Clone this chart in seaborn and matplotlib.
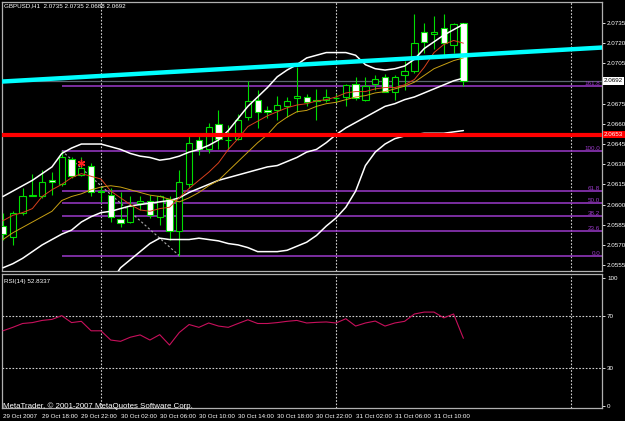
import matplotlib
matplotlib.use("Agg")
import pandas as pd
import matplotlib.pyplot as plt
import matplotlib.transforms as mtransforms
import seaborn as sns

# GBPUSD H1, bars from 29 Oct 2007 14:00 to 31 Oct 2007 13:00
opens = [2.0584, 2.0576, 2.0594, 2.0606, 2.0606, 2.0618, 2.0615, 2.0634, 2.0622, 2.0629,
         2.0610, 2.0607, 2.0589, 2.0587, 2.0601, 2.0603, 2.0591, 2.0604, 2.0580, 2.0615,
         2.0648, 2.0641, 2.0660, 2.0648, 2.0649, 2.0665, 2.0678, 2.0670, 2.0670, 2.0673,
         2.0679, 2.0680, 2.0678, 2.0678, 2.0679, 2.0680, 2.0690, 2.0678, 2.0690, 2.0695,
         2.0684, 2.0696, 2.0699, 2.0728, 2.0727, 2.0731, 2.0719, 2.0735]
highs = [2.0594, 2.0595, 2.0612, 2.0623, 2.0626, 2.0624, 2.0640, 2.0635, 2.0635, 2.0631,
         2.0613, 2.0612, 2.0609, 2.0606, 2.0606, 2.0607, 2.0607, 2.0606, 2.0626, 2.0652,
         2.0652, 2.0661, 2.0670, 2.0659, 2.0667, 2.0692, 2.0685, 2.0673, 2.0681, 2.0680,
         2.0702, 2.0682, 2.0686, 2.0686, 2.0682, 2.0690, 2.0695, 2.0695, 2.0696, 2.0697,
         2.0696, 2.0707, 2.0742, 2.0735, 2.0740, 2.0742, 2.0735, 2.0735]
lows = [2.0574, 2.0570, 2.0592, 2.0606, 2.0605, 2.0607, 2.0614, 2.0620, 2.0621, 2.0606,
        2.0602, 2.0587, 2.0583, 2.0586, 2.0596, 2.0590, 2.0585, 2.0574, 2.0562, 2.0612,
        2.0637, 2.0638, 2.0641, 2.0641, 2.0648, 2.0663, 2.0657, 2.0664, 2.0663, 2.0665,
        2.0669, 2.0673, 2.0663, 2.0676, 2.0676, 2.0673, 2.0678, 2.0677, 2.0685, 2.0684,
        2.0678, 2.0685, 2.0698, 2.0713, 2.0716, 2.0710, 2.0713, 2.0688]
closes = [2.0578, 2.0594, 2.0606, 2.0607, 2.0617, 2.0617, 2.0635, 2.0621, 2.0627, 2.0609,
          2.0609, 2.0591, 2.0586, 2.0599, 2.0603, 2.0592, 2.0606, 2.0580, 2.0617, 2.0646,
          2.0641, 2.0658, 2.0649, 2.0648, 2.0663, 2.0677, 2.0669, 2.0669, 2.0674, 2.0677,
          2.0681, 2.0676, 2.0677, 2.0680, 2.0679, 2.0689, 2.0679, 2.0688, 2.0693, 2.0684,
          2.0695, 2.0699, 2.0720, 2.0721, 2.0728, 2.0720, 2.0734, 2.0692]

bb_upper = [2.0606, 2.0610, 2.0614, 2.0618, 2.0623, 2.0628, 2.0638, 2.0642, 2.0645, 2.0645,
            2.0645, 2.0643, 2.0641, 2.0638, 2.0636, 2.0635, 2.0633, 2.0634, 2.0636, 2.0639,
            2.0641, 2.0644, 2.0648, 2.0655, 2.0664, 2.0673, 2.0680, 2.0687, 2.0695, 2.0700,
            2.0704, 2.0709, 2.0711, 2.0713, 2.0713, 2.0713, 2.0711, 2.0704, 2.0701, 2.0700,
            2.0701, 2.0703, 2.0708, 2.0716, 2.0721, 2.0726, 2.0730, 2.0734]
bb_middle = [2.0553, 2.0556, 2.0560, 2.0565, 2.0570, 2.0574, 2.0578, 2.0581, 2.0587, 2.0591,
             2.0594, 2.0595, 2.0597, 2.0599, 2.0600, 2.0601, 2.0602, 2.0603, 2.0605, 2.0609,
             2.0612, 2.0615, 2.0618, 2.0620, 2.0622, 2.0624, 2.0626, 2.0628, 2.0629, 2.0632,
             2.0635, 2.0639, 2.0641, 2.0646, 2.0652, 2.0657, 2.0661, 2.0665, 2.0669, 2.0673,
             2.0675, 2.0678, 2.0680, 2.0683, 2.0686, 2.0689, 2.0692, 2.0694]
bb_lower = [None] * 11 + [
            2.0542, 2.0553, 2.0559, 2.0565, 2.0571, 2.0575, 2.0574, 2.0574, 2.0574,
            2.0575, 2.0574, 2.0573, 2.0571, 2.0570, 2.0568, 2.0565, 2.0565, 2.0565, 2.0566,
            2.0569, 2.0572, 2.0577, 2.0584, 2.0590, 2.0598, 2.0610, 2.0629, 2.0639, 2.0645,
            2.0649, 2.0651, 2.0652, 2.0653, 2.0653, 2.0653, 2.0654, 2.0655]
ma_fast = [2.0588, 2.0592, 2.0594, 2.0597, 2.0606, 2.0611, 2.0615, 2.0620, 2.0623, 2.0621,
           2.0619, 2.0610, 2.0605, 2.0600, 2.0596, 2.0595, 2.0597, 2.0598, 2.0605, 2.0612,
           2.0618, 2.0624, 2.0631, 2.0641, 2.0649, 2.0658, 2.0662, 2.0666, 2.0669, 2.0672,
           2.0674, 2.0675, 2.0677, 2.0678, 2.0680, 2.0683, 2.0684, 2.0684, 2.0686, 2.0687,
           2.0687, 2.0689, 2.0693, 2.0702, 2.0713, 2.0719, 2.0722, 2.0720]
ma_slow = [2.0574, 2.0579, 2.0583, 2.0587, 2.0591, 2.0595, 2.0603, 2.0606, 2.0608, 2.0611,
           2.0613, 2.0614, 2.0613, 2.0611, 2.0609, 2.0607, 2.0606, 2.0604, 2.0602, 2.0605,
           2.0609, 2.0614, 2.0618, 2.0625, 2.0632, 2.0639, 2.0646, 2.0652, 2.0660, 2.0665,
           2.0669, 2.0670, 2.0673, 2.0675, 2.0676, 2.0678, 2.0680, 2.0681, 2.0683, 2.0684,
           2.0686, 2.0688, 2.0691, 2.0696, 2.0701, 2.0704, 2.0707, 2.0709]
rsi = [58.7, 61.4, 64.4, 65.1, 66.8, 67.6, 70.5, 65.1, 66.1, 58.7,
       58.7, 51.5, 50.5, 53.7, 55.5, 51.5, 55.7, 47.6, 57.4, 63.6,
       61.4, 64.8, 62.4, 61.4, 64.4, 67.3, 64.4, 64.4, 65.1, 66.1,
       66.8, 64.8, 65.3, 65.6, 64.8, 68.1, 62.4, 64.8, 66.3, 62.4,
       64.8, 66.1, 71.8, 73.3, 73.3, 68.8, 71.8, 52.8337]

time_ticks = [0, 4, 8, 12, 16, 20, 24, 28, 32, 36, 40, 44]
time_labels = ["29 Oct 2007", "29 Oct 18:00", "29 Oct 22:00", "30 Oct 02:00", "30 Oct 06:00",
               "30 Oct 10:00", "30 Oct 14:00", "30 Oct 18:00", "30 Oct 22:00", "31 Oct 02:00",
               "31 Oct 06:00", "31 Oct 10:00"]
day_breaks = [10, 34, 58]
price_ticks = [2.0555, 2.0570, 2.0585, 2.0600, 2.0615, 2.0630, 2.0645, 2.0660,
               2.0675, 2.0690, 2.0705, 2.0720, 2.0735]
rsi_ticks = [100, 70, 30, 0]

# chart objects
trend_bars = [0, 47]
trend_prices = [2.06915, 2.07109]
support_price = 2.0652
support_label = "2.0653"
bid_price = 2.0692
fib_bars = [6, 18]
fib_prices = [2.0640, 2.0562]
fib_levels = [0.0, 23.6, 38.2, 50.0, 61.8, 100.0, 161.8]
star_bar, star_price = 8, 2.0631

GREEN = "#00dd00"
FIB = "#9c3acb"
GRID = "#d0d0d0"
FS = 4.5

df = pd.DataFrame({"bar": range(len(closes)), "open": opens, "high": highs, "low": lows,
                   "close": closes, "bb_upper": bb_upper, "bb_middle": bb_middle,
                   "bb_lower": pd.to_numeric(pd.Series(bb_lower), errors="coerce"),
                   "ma_fast": ma_fast, "ma_slow": ma_slow, "rsi": rsi})

sns.set_style("dark", {"axes.facecolor": "black", "figure.facecolor": "black"})
plt.rcParams["font.family"] = ["Liberation Sans", "DejaVu Sans"]

W, H = 625, 421
def frame(x0, y0, x1, y1):
    return [x0 / W, 1 - y1 / H, (x1 - x0) / W, (y1 - y0) / H]

fig = plt.figure(figsize=(W / 100, H / 100), dpi=100, facecolor="black")
ax = fig.add_axes(frame(2, 2, 602, 271))
ax2 = fig.add_axes(frame(2, 274, 602, 408))

for a in (ax, ax2):
    a.set_facecolor("black")
    for s in a.spines.values():
        s.set_color("#b0b0b0")
        s.set_linewidth(0.9)
    a.set_xlim(-0.1, 61.15)
    for d in day_breaks:
        a.axvline(d, color=GRID, lw=0.8, ls=(0, (1.5, 1.5)), zorder=1)
    a.grid(False)

# candles
up = df["close"] >= df["open"]
ax.vlines(df["bar"], df["low"], df["high"], color=GREEN, lw=0.8, zorder=3)
ax.bar(df["bar"], (df["close"] - df["open"]).abs(), bottom=df[["open", "close"]].min(axis=1),
       width=0.64, color=["black" if u else "white" for u in up], edgecolor=GREEN,
       linewidth=0.8, zorder=4)

# indicators
for col in ["bb_upper", "bb_middle", "bb_lower"]:
    sns.lineplot(data=df, x="bar", y=col, ax=ax, color="white", lw=1.1, zorder=5)
sns.lineplot(data=df, x="bar", y="ma_fast", ax=ax, color="#d8401c", lw=0.7, zorder=5)
sns.lineplot(data=df, x="bar", y="ma_slow", ax=ax, color="#c8a014", lw=0.7, zorder=5)

# objects
ax.axline((trend_bars[0], trend_prices[0]), (trend_bars[1], trend_prices[1]),
          color="#00ffff", lw=3.2, zorder=6)
ax.axhline(support_price, color="#ff0000", lw=3.0, zorder=6)
ax.axhline(bid_price, color="#5b6570", lw=0.9, zorder=2)
hi, lo = fib_prices
for lev in fib_levels:
    p = lo + (hi - lo) * lev / 100
    ax.hlines(p, fib_bars[0], 61.15, color=FIB, lw=1.1, zorder=2)
    ax.text(60.95, p, f"{lev:.1f}", color=FIB, fontsize=FS, ha="right", va="bottom", zorder=7)
ax.plot(fib_bars, fib_prices, color="#a8a8a8", lw=0.8, ls=(0, (2, 2)), zorder=2)
ax.scatter([star_bar], [star_price], marker=(6, 2, 0), s=22, color="#ff2020", lw=1, zorder=7)

ax.set_ylim(2.05506, 2.07506)
ax.set_xticks([])
ax.yaxis.tick_right()
ax.set_yticks(price_ticks)
# the 2.0690 label sits under the bid price box
ax.set_yticklabels(["" if abs(p - bid_price) < 0.0005 else f"{p:.4f}" for p in price_ticks])
ax.tick_params(axis="y", colors="white", labelsize=FS, length=2.5, width=0.6, pad=1.2)
ax.set_xlabel("")
ax.set_ylabel("")

trans = mtransforms.blended_transform_factory(ax.transAxes, ax.transData)
ax.text(1.0035, bid_price, f"{bid_price:.4f}", transform=trans, color="black", fontsize=FS,
        va="center", ha="left", clip_on=False, zorder=8,
        bbox=dict(fc="white", ec="none", pad=0.9))
ax.text(1.0035, support_price, support_label, transform=trans, color="white", fontsize=FS,
        va="center", ha="left", clip_on=False, zorder=8,
        bbox=dict(fc="#ff0000", ec="none", pad=0.9))

# RSI pane
sns.lineplot(data=df, x="bar", y="rsi", ax=ax2, color="#c8105c", lw=0.8, zorder=5)
for lvl in (70, 30):
    ax2.axhline(lvl, color=GRID, lw=0.8, ls=(0, (1.5, 1.5)), zorder=1)
ax2.set_ylim(-1.5, 103)
ax2.yaxis.tick_right()
ax2.set_yticks(rsi_ticks)
ax2.set_yticklabels([str(t) for t in rsi_ticks])
ax2.tick_params(axis="y", colors="white", labelsize=FS, length=2.5, width=0.6, pad=1.2)
ax2.set_xticks(time_ticks)
ax2.set_xticklabels(time_labels, ha="left")
ax2.tick_params(axis="x", colors="white", labelsize=FS, length=3, width=0.6, pad=1)
ax2.set_xlabel("")
ax2.set_ylabel("")

fig.text(4 / W, 1 - 6 / H, "GBPUSD,H1  2.0735 2.0735 2.0688 2.0692", color="white",
         fontsize=FS, va="center", ha="left")
fig.text(4 / W, 1 - 281 / H, "RSI(14) 52.8337", color="white", fontsize=FS,
         va="center", ha="left")
fig.text(3 / W, 1 - 406 / H, "MetaTrader, \u00a9 2001-2007 MetaQuotes Software Corp.",
         color="white", fontsize=5.7, va="center", ha="left")

fig.savefig("out.png", dpi=100, facecolor="black")
